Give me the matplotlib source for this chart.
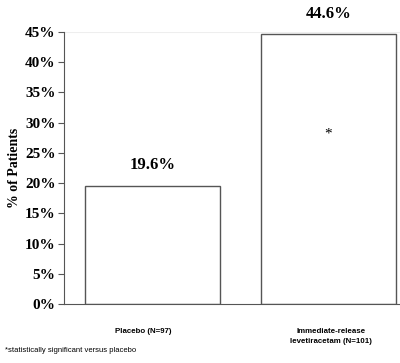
import matplotlib
matplotlib.use("Agg")
import matplotlib.pyplot as plt

CATEGORIES = ["Placebo (N=97)", "Immediate-release\nlevetiracetam (N=101)"]
VALUES = [0.196, 0.446]
VALUE_LABELS = ["19.6%", "44.6%"]
Y_TICKS = [0.0, 0.05, 0.10, 0.15, 0.20, 0.25, 0.30, 0.35, 0.40, 0.45]
FOOTNOTE = "*statistically significant versus placebo"

SERIF = ["Liberation Serif", "DejaVu Serif"]
NARROW = ["Liberation Sans Narrow", "Liberation Sans", "DejaVu Sans"]

fig = plt.figure(figsize=(4.0, 3.63), dpi=100)
ax = fig.add_axes([0.16, 0.1625, 0.84, 0.7493])

x = range(len(CATEGORIES))
ax.bar(x, VALUES, width=0.767, color="white", edgecolor="#555555", linewidth=1.0)

ax.set_xlim(-0.503, 1.406)
ax.set_ylim(0, 0.45)
ax.axhline(0.45, color="#eeeeee", linewidth=0.8, zorder=0)

for spine in ("top", "right"):
    ax.spines[spine].set_visible(False)
ax.spines["left"].set_color("#555555")
ax.spines["bottom"].set_color("#555555")

ax.set_yticks(Y_TICKS)
ax.set_yticklabels([f"{int(round(t * 100))}%" for t in Y_TICKS],
                   family=SERIF, fontweight="bold", fontsize=11)
ax.tick_params(axis="y", direction="out", length=4, color="#555555", pad=2)
ax.set_xticks([])

ax.set_ylabel("% of Patients", family=SERIF, fontweight="bold", fontsize=10, labelpad=3)

for xi, v, lab in zip(x, VALUES, VALUE_LABELS):
    ax.annotate(lab, (xi, v), xytext=(0, 9), textcoords="offset points",
                ha="center", va="bottom", family=SERIF, fontweight="bold", fontsize=12)

# significance marker inside the levetiracetam bar
ax.text(1, VALUES[1] * 0.63, "*", ha="center", va="center", fontsize=11, family=SERIF)

label_shift = [-7, 2]
for xi, cat, dx in zip(x, CATEGORIES, label_shift):
    ax.annotate(cat, (xi, 0), xytext=(dx, -17), textcoords="offset points",
                ha="center", va="top", family=NARROW, fontweight="bold", fontsize=5.7,
                linespacing=1.6)

fig.text(0.012, 0.035, FOOTNOTE, ha="left", va="center", family=NARROW, fontsize=5.5)

fig.savefig("out.png", dpi=100, facecolor="white")
